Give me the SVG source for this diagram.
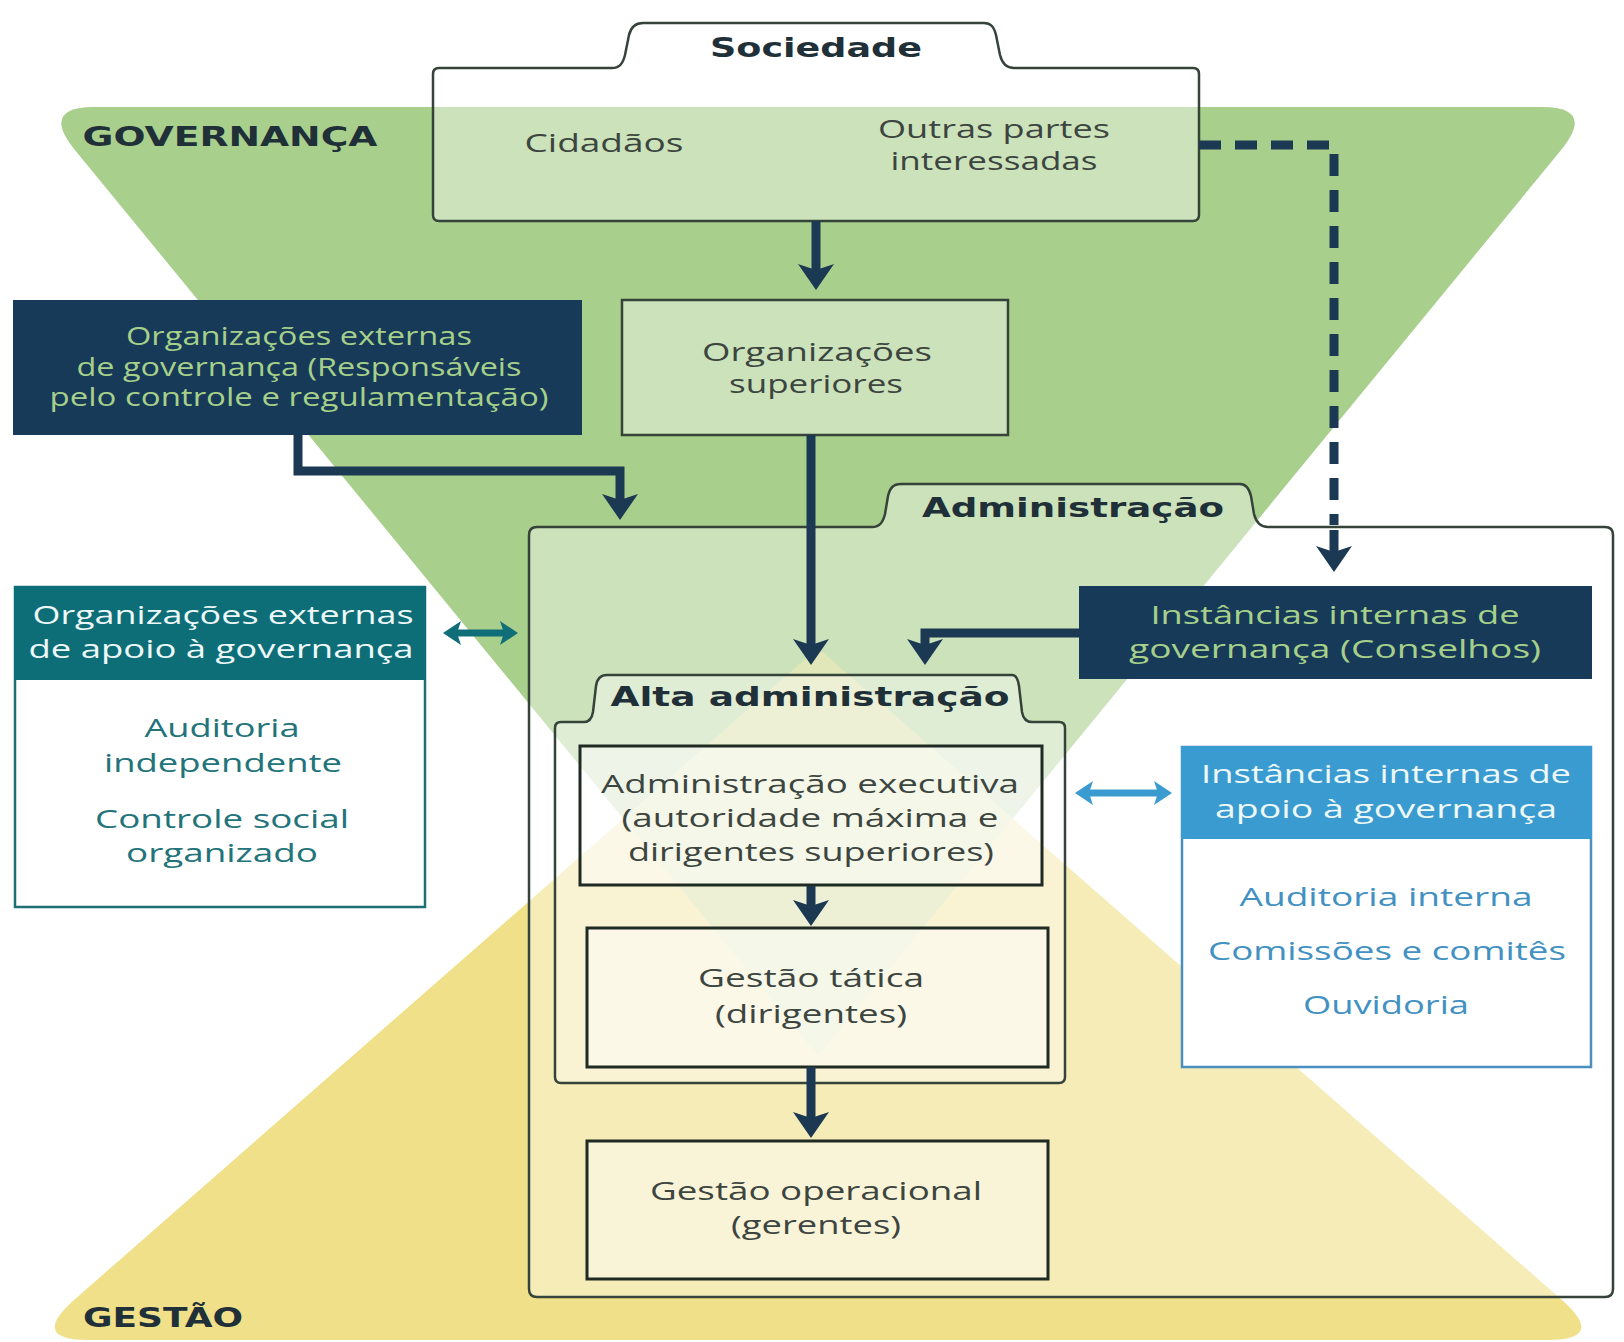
<svg xmlns="http://www.w3.org/2000/svg" width="1624" height="1342" viewBox="0 0 1624 1342">
<defs>
<style>
.reg{font-family:"Open Sans","Noto Sans","Liberation Sans",sans-serif;font-size:26px;text-anchor:middle}
.bold{font-family:"DejaVu Sans","Liberation Sans",sans-serif;font-weight:bold;font-size:27px;text-anchor:middle;fill:#1f3038}
.dark{fill:#3d4540}
.lg{fill:#a6d08a}
.wh{fill:#eef8f8}
.teal{fill:#22737a}
.blue{fill:#4291c2}
.box{fill:#ffffff;fill-opacity:0.4;stroke:#35433b;stroke-width:2.5}
.inner{fill:#ffffff;fill-opacity:0.45;stroke:#1f2a22;stroke-width:3}
.conn{fill:none;stroke:#1c3953;stroke-width:9}
</style>
<marker id="ah" markerUnits="userSpaceOnUse" markerWidth="30" markerHeight="40" refX="6" refY="18" orient="auto" overflow="visible"><path d="M0,0 L26,18 L0,36 L6,18 Z" fill="#1c3953"/></marker>
<marker id="ahTeal" markerUnits="userSpaceOnUse" markerWidth="20" markerHeight="26" refX="4" refY="12" orient="auto-start-reverse" overflow="visible"><path d="M0,0 L18,12 L0,24 L4,12 Z" fill="#0f6e78"/></marker>
<marker id="ahBlue" markerUnits="userSpaceOnUse" markerWidth="20" markerHeight="26" refX="4" refY="12" orient="auto-start-reverse" overflow="visible"><path d="M0,0 L18,12 L0,24 L4,12 Z" fill="#3a9bd0"/></marker>
<path id="greenTri" d="M95,107 L1541,107 Q1596,107 1561,150 L818,1056 L75,150 Q40,107 95,107 Z"/>
</defs>
<rect width="1624" height="1342" fill="#ffffff"/>
<g id="background">
<use href="#greenTri" fill="#a9cf8d"/>
<path d="M818,648 L1562,1300 Q1607,1340 1547,1340 L89,1340 Q29,1340 74,1300 Z" fill="#efe089"/>
<use href="#greenTri" fill="#a9cf8d" fill-opacity="0.45"/>
<text class="bold" x="230" y="146" font-size="28" textLength="295" lengthAdjust="spacingAndGlyphs">GOVERNANÇA</text>
<text class="bold" x="163" y="1327" font-size="28" textLength="160" lengthAdjust="spacingAndGlyphs">GESTÃO</text>
</g>
<g id="administracao">
<path class="box" d="M537,527 L872,527 C880,527 883,522 885,514 L888,496 C890,488 893,484 901,484 L1240,484 C1246,484 1249,488 1251,496 L1254,514 C1256,522 1260,527 1268,527 L1605,527 Q1613,527 1613,535 L1613,1289 Q1613,1297 1605,1297 L537,1297 Q529,1297 529,1289 L529,535 Q529,527 537,527 Z"/>
<text class="bold" x="1073" y="517" textLength="302" lengthAdjust="spacingAndGlyphs">Administração</text>
</g>
<g id="sociedade">
<path class="box" d="M439,68 L612,68 C620,68 623,63 625,55 L629,35 C631,27 635,23 643,23 L984,23 C991,23 994,27 996,35 L1000,55 C1002,63 1006,68 1014,68 L1193,68 Q1199,68 1199,74 L1199,215 Q1199,221 1193,221 L439,221 Q433,221 433,215 L433,74 Q433,68 439,68 Z"/>
<text class="bold" x="816" y="57" textLength="212" lengthAdjust="spacingAndGlyphs">Sociedade</text>
<text class="reg dark" x="604" y="152" font-size="28" textLength="159" lengthAdjust="spacingAndGlyphs">Cidadãos</text>
<text class="reg dark" x="994" y="138" font-size="23" textLength="232" lengthAdjust="spacingAndGlyphs">Outras partes</text>
<text class="reg dark" x="994" y="170" font-size="23" textLength="207" lengthAdjust="spacingAndGlyphs">interessadas</text>
</g>
<g id="org-superiores">
<rect class="box" x="622" y="300" width="386" height="135" stroke="#1d3524"/>
<text class="reg dark" x="817" y="361" font-size="23" textLength="230" lengthAdjust="spacingAndGlyphs">Organizações</text>
<text class="reg dark" x="816" y="393" font-size="23" textLength="174" lengthAdjust="spacingAndGlyphs">superiores</text>
</g>
<g id="org-externas-governanca">
<rect x="13" y="300" width="569" height="135" fill="#163a58"/>
<text class="reg lg" x="299" y="345" font-size="21" textLength="346" lengthAdjust="spacingAndGlyphs">Organizações externas</text>
<text class="reg lg" x="299" y="376" font-size="21" textLength="445" lengthAdjust="spacingAndGlyphs">de governança (Responsáveis</text>
<text class="reg lg" x="299" y="406" font-size="21" textLength="499" lengthAdjust="spacingAndGlyphs">pelo controle e regulamentação)</text>
</g>
<g id="org-externas-apoio">
<rect x="15" y="587" width="410" height="320" fill="#ffffff" stroke="#1e6f73" stroke-width="2.5"/>
<rect x="14" y="586" width="412" height="94" fill="#0d6e78"/>
<text class="reg wh" x="223" y="624" font-size="25" textLength="381" lengthAdjust="spacingAndGlyphs">Organizações externas</text>
<text class="reg wh" x="221" y="658" font-size="25" textLength="385" lengthAdjust="spacingAndGlyphs">de apoio à governança</text>
<text class="reg teal" x="222" y="737" font-size="25" textLength="155" lengthAdjust="spacingAndGlyphs">Auditoria</text>
<text class="reg teal" x="223" y="772" font-size="25" textLength="238" lengthAdjust="spacingAndGlyphs">independente</text>
<text class="reg teal" x="222" y="828" font-size="25" textLength="254" lengthAdjust="spacingAndGlyphs">Controle social</text>
<text class="reg teal" x="222" y="862" font-size="25" textLength="192" lengthAdjust="spacingAndGlyphs">organizado</text>
</g>
<g id="instancias-internas-governanca">
<rect x="1079" y="586" width="513" height="93" fill="#163a58"/>
<text class="reg lg" x="1335" y="624" font-size="24" textLength="369" lengthAdjust="spacingAndGlyphs">Instâncias internas de</text>
<text class="reg lg" x="1335" y="658" font-size="24" textLength="412" lengthAdjust="spacingAndGlyphs">governança (Conselhos)</text>
</g>
<g id="alta-administracao">
<path class="box" d="M561,722 L584,722 C590,722 592,718 593,712 L596,686 C597,679 600,675 607,675 L1012,675 C1016,675 1018,679 1019,686 L1022,712 C1023,718 1026,722 1032,722 L1059,722 Q1065,722 1065,728 L1065,1077 Q1065,1083 1059,1083 L561,1083 Q555,1083 555,1077 L555,728 Q555,722 561,722 Z"/>
<text class="bold" x="810" y="706" textLength="399" lengthAdjust="spacingAndGlyphs">Alta administração</text>
</g>
<g id="administracao-executiva">
<rect class="inner" x="580" y="746" width="462" height="139"/>
<text class="reg dark" x="810" y="793" font-size="25" textLength="418" lengthAdjust="spacingAndGlyphs">Administração executiva</text>
<text class="reg dark" x="810" y="827" font-size="25" textLength="377" lengthAdjust="spacingAndGlyphs">(autoridade máxima e</text>
<text class="reg dark" x="811" y="861" font-size="25" textLength="366" lengthAdjust="spacingAndGlyphs">dirigentes superiores)</text>
</g>
<g id="gestao-tatica">
<rect class="inner" x="587" y="928" width="461" height="139"/>
<text class="reg dark" x="811" y="987" textLength="226" lengthAdjust="spacingAndGlyphs">Gestão tática</text>
<text class="reg dark" x="811" y="1023" textLength="192" lengthAdjust="spacingAndGlyphs">(dirigentes)</text>
</g>
<g id="gestao-operacional">
<rect class="inner" x="587" y="1141" width="461" height="138"/>
<text class="reg dark" x="816" y="1200" font-size="25" textLength="332" lengthAdjust="spacingAndGlyphs">Gestão operacional</text>
<text class="reg dark" x="816" y="1234" font-size="25" textLength="170" lengthAdjust="spacingAndGlyphs">(gerentes)</text>
</g>
<g id="instancias-internas-apoio">
<rect x="1182" y="747" width="409" height="320" fill="#ffffff" stroke="#4a8fc0" stroke-width="2.5"/>
<rect x="1181" y="746" width="411" height="93" fill="#3a9bd0"/>
<text class="reg wh" x="1386" y="783" font-size="25" textLength="370" lengthAdjust="spacingAndGlyphs">Instâncias internas de</text>
<text class="reg wh" x="1386" y="818" font-size="25" textLength="342" lengthAdjust="spacingAndGlyphs">apoio à governança</text>
<text class="reg blue" x="1386" y="906" textLength="293" lengthAdjust="spacingAndGlyphs">Auditoria interna</text>
<text class="reg blue" x="1387" y="960" textLength="358" lengthAdjust="spacingAndGlyphs">Comissões e comitês</text>
<text class="reg blue" x="1386" y="1014" textLength="166" lengthAdjust="spacingAndGlyphs">Ouvidoria</text>
</g>
<g id="connectors">
<path class="conn" d="M816,221 L816,270" marker-end="url(#ah)"/>
<path class="conn" d="M298,435 L298,471 L620,471 L620,500" marker-end="url(#ah)"/>
<path class="conn" d="M811,435 L811,645" marker-end="url(#ah)"/>
<path class="conn" d="M1079,633 L925,633 L925,645" marker-end="url(#ah)"/>
<path class="conn" d="M811,886 L811,906" marker-end="url(#ah)"/>
<path class="conn" d="M811,1067 L811,1118" marker-end="url(#ah)"/>
<path class="conn" d="M1199,145 L1334,145 L1334,525" stroke-width="11" stroke-dasharray="22 14"/>
<path class="conn" d="M1334,530 L1334,552" marker-end="url(#ah)"/>
<path d="M457,633 L504,633" stroke="#0f6e78" stroke-width="7" marker-start="url(#ahTeal)" marker-end="url(#ahTeal)"/>
<path d="M1089,793 L1158,793" stroke="#3a9bd0" stroke-width="7" marker-start="url(#ahBlue)" marker-end="url(#ahBlue)"/>
</g>
</svg>
